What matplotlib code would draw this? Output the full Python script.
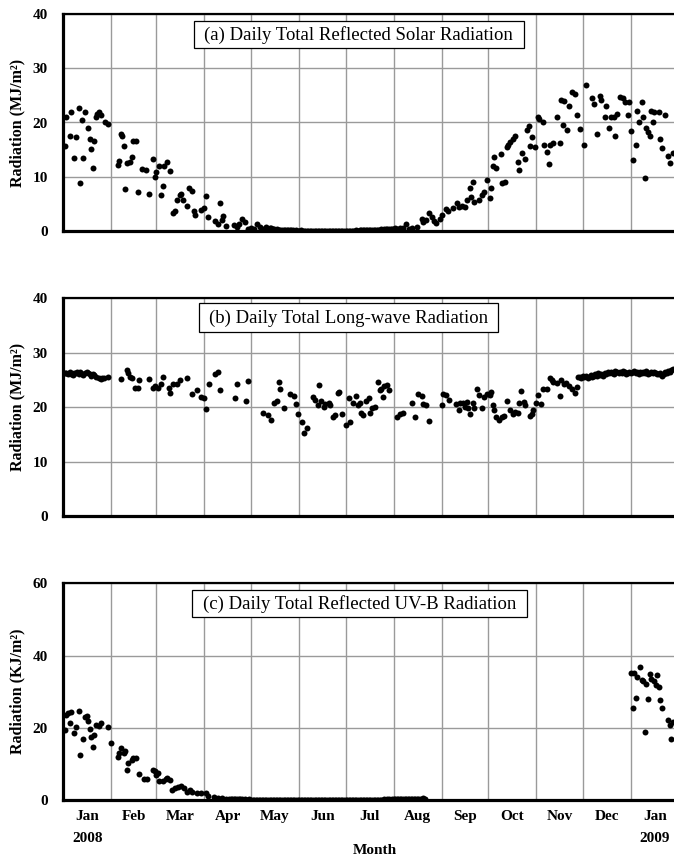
import matplotlib
matplotlib.use('Agg')
import matplotlib.pyplot as plt
import matplotlib.transforms as mtrans
from matplotlib.patches import Rectangle
import numpy as np

plt.rcParams['font.family'] = ['Liberation Serif', 'DejaVu Serif']

# ---------------- data (day 0 = 1 Jan 2008) ----------------
month_names = ['Jan', 'Feb', 'Mar', 'Apr', 'May', 'Jun', 'Jul', 'Aug',
               'Sep', 'Oct', 'Nov', 'Dec', 'Jan']
month_starts = [0, 31, 60, 91, 121, 152, 182, 213, 244, 274, 305, 335, 366, 397]
year_labels = ['2008', '2009']

# (a) reflected solar radiation, MJ/m2
a_days = [1, 2, 4, 5, 7, 8, 10, 11, 12, 13, 14, 16, 17, 18, 19, 20, 21, 22, 23, 24, 27, 29,
          35, 36, 37, 38, 39, 40, 41, 43, 44, 45, 47, 48, 51, 53, 55, 58, 59, 60, 62, 63, 64,
          65, 67, 69, 71, 72, 73, 75, 76, 77, 80, 81, 83, 84, 85, 89, 91, 92, 93, 98, 100,
          101, 102, 103, 105, 110, 112, 113, 115, 117, 119, 121, 123, 125, 127, 129, 131, 133]
a_vals = [15.7, 21.1, 17.5, 21.9, 13.5, 17.3, 22.7, 8.8, 20.5, 13.5, 21.9, 19.0, 16.9, 15.1,
          11.7, 16.5, 21.1, 21.6, 21.9, 21.3, 20.0, 19.7,
          12.2, 12.9, 17.8, 17.5, 15.7, 7.8, 12.5, 12.8, 13.7, 16.5, 16.5, 7.2, 11.4, 11.2, 6.8,
          13.2, 9.9, 10.9, 12.0, 6.6, 8.3, 11.9, 12.8, 11.1, 3.3, 3.7, 5.7, 6.6, 6.9, 5.7, 4.6,
          8.0, 7.3, 3.7, 2.9, 3.9, 4.2, 6.5, 2.5, 1.9, 1.3, 5.1, 2.0, 2.8, 1.0, 1.1, 0.8, 1.3,
          2.3, 1.7, 0.4, 0.6, 0.4, 1.2, 0.8, 0.4, 0.7, 0.6]
a_low_start = 134
a_low_vals = [0.5, 0.3, 0.4, 0.2, 0.3, 0.2, 0.2, 0.15, 0.1, 0.2,
              0.1, 0.1, 0.15, 0.1, 0.1, 0.05, 0.1, 0.08, 0.05, 0.1,
              0.05, 0.05, 0.08, 0.05, 0.03, 0.05, 0.05, 0.03, 0.05, 0.04,
              0.03, 0.05, 0.03, 0.04, 0.03, 0.05, 0.03, 0.04, 0.05, 0.03,
              0.05, 0.04, 0.03, 0.05, 0.04, 0.05, 0.06, 0.05, 0.04, 0.06,
              0.05, 0.07, 0.06, 0.08, 0.06, 0.1, 0.08, 0.1, 0.12, 0.1,
              0.12, 0.15, 0.1, 0.15, 0.2, 0.15, 0.2, 0.18, 0.25, 0.2,
              0.25, 0.3, 0.25, 0.35, 0.3, 0.4, 0.35, 0.3, 0.45, 0.4,
              0.5, 0.45]
a_days2 = [217, 219, 221, 223, 225, 228, 231, 232, 234, 236, 238, 239, 240, 243, 244, 247, 248,
           251, 254, 255, 257, 259, 260, 262, 263, 264, 265, 268, 270, 271, 273, 275, 276, 277,
           278, 279, 282, 283, 285, 286, 287, 288, 290, 291, 293, 294, 296, 298, 299, 300, 301,
           302, 304, 306, 307, 309, 310, 312, 313, 314, 316, 318, 320, 321, 322, 323, 325, 326,
           328, 330, 331, 333, 336, 337, 341, 342, 344, 346, 347, 349, 350, 352, 353, 355, 356,
           357, 359, 361, 362, 364, 365, 366, 367, 369, 370, 371, 373, 374, 375, 376, 377, 378,
           379, 380, 381, 384, 385, 386, 388, 390, 391, 393]
a_vals2 = [0.5, 0.6, 1.3, 0.4, 0.6, 0.8, 2.3, 1.7, 2.1, 3.3, 2.6, 1.8, 1.5, 2.3, 2.9, 4.1, 3.6,
           4.2, 5.2, 4.5, 4.6, 4.5, 5.7, 7.9, 6.3, 9.1, 5.4, 5.8, 6.6, 7.1, 9.4, 6.1, 7.9, 12.0,
           13.7, 11.6, 14.2, 8.9, 9.1, 15.5, 15.9, 16.4, 17.0, 17.6, 12.8, 11.3, 14.4, 13.3, 18.6,
           19.3, 15.7, 17.4, 15.5, 21.0, 20.6, 20.0, 15.8, 14.5, 12.3, 15.9, 16.2, 21.1, 16.2,
           24.1, 19.5, 24.0, 18.7, 23.0, 25.7, 25.2, 21.4, 18.8, 15.8, 26.9, 24.6, 23.4, 17.9,
           24.9, 24.1, 21.1, 23.0, 19.0, 21.0, 21.1, 17.5, 21.6, 24.7, 24.6, 23.8, 21.3, 23.8,
           18.5, 13.1, 15.9, 22.2, 20.1, 23.8, 21.1, 9.8, 19.0, 18.2, 17.6, 22.2, 20.0, 22.0,
           21.9, 16.9, 15.3, 21.3, 13.8, 12.6, 14.3]

# (b) long-wave radiation, MJ/m2
b_days = list(range(1, 22)) + [23, 24, 25, 26, 29, 37, 41, 42, 43, 44, 46, 48, 49, 55, 58, 59,
          61, 63, 64, 68, 69, 71, 73, 75, 80, 83, 86, 89, 91, 92, 94, 98, 100, 101, 111, 112,
          118, 119, 129, 132, 134, 136, 138, 139, 140, 142, 146, 149, 150, 151, 154, 155, 157,
          161, 162, 164, 165, 166, 168, 169, 171, 172, 174, 175, 177, 178, 180, 182, 184, 185,
          187, 189, 190, 191, 192, 193, 195, 197, 198, 199, 201, 203, 204, 205, 206, 207, 209,
          210, 215, 217, 219, 225, 227, 229, 231, 232, 234, 236, 244, 245, 247, 249, 253, 255,
          256, 258, 259, 260, 261, 262, 264, 265, 267, 268, 270, 271, 273, 275, 276, 277, 278,
          279, 281, 283, 284, 286, 288, 290, 291, 293, 294, 295, 297, 298, 301, 302, 303, 305,
          306, 308, 309, 312, 314, 315, 316, 318, 320, 321, 323, 324, 326, 328, 330, 331, 332]
b_vals = [26.2, 26.3, 26.0, 26.4, 26.1, 25.9, 26.3, 26.2, 26.5, 26.0, 26.4, 26.1, 25.9, 26.3,
          26.4, 26.2, 26.0, 25.8, 26.1, 25.9, 25.6,
          25.3, 25.2, 25.3, 25.3, 25.5, 25.1, 26.8, 26.2, 25.6, 25.3, 23.6, 23.6, 25.0, 25.1,
          23.6, 23.9, 23.6, 24.2, 25.6, 23.6, 22.6, 24.2, 24.3, 25.0, 25.4, 22.4, 23.1, 21.9,
          21.6, 19.6, 24.2, 26.1, 26.5, 23.1, 21.7, 24.3, 21.2, 24.8, 18.9, 18.6, 17.6, 20.7,
          21.1, 24.6, 23.3, 19.8, 22.4, 22.1, 20.6, 18.7, 17.2, 15.3, 16.2, 21.8, 21.4, 20.4,
          24.0, 21.2, 20.1, 20.6, 20.7, 20.4, 18.1, 18.5, 22.6, 22.8, 18.8, 16.7, 21.6, 17.3,
          20.7, 22.1, 20.4, 20.8, 19.0, 18.6, 21.2, 21.6, 19.0, 19.8, 20.1, 24.6, 23.1, 23.4,
          21.9, 23.8, 24.0, 23.1, 18.2, 18.8, 19.0, 20.7, 18.1, 22.4, 22.1, 20.6, 20.4, 17.5,
          20.4, 22.4, 22.2, 21.4, 20.6, 19.5, 20.7, 20.8, 20.1, 21.0, 19.8, 18.8, 20.8, 19.8,
          23.4, 22.2, 19.8, 21.9, 22.5, 22.2, 22.8, 20.4, 19.5, 18.2, 17.6, 18.1, 18.3, 21.2,
          19.5, 18.8, 19.1, 19.0, 20.8, 23.0, 21.0, 20.4, 18.3, 18.8, 19.5, 20.7, 22.2, 20.6,
          23.4, 23.4, 25.4, 25.0, 24.7, 24.4, 22.1, 25.0, 24.2, 24.5, 23.8, 23.4, 22.6, 23.7,
          25.5]
b_high_start = 333
b_high_vals = [25.6, 25.3, 25.8, 25.5, 25.7, 25.4, 25.6, 25.9, 25.5, 25.8,
               26.0, 25.7, 26.2, 25.9, 26.1, 25.8, 26.3, 26.0, 26.4, 26.2,
               26.5, 26.3, 26.1, 26.6, 26.4, 26.2, 26.5, 26.3, 26.6, 26.4,
               26.0, 26.3, 26.5, 26.2, 26.4, 26.6, 26.3, 26.5, 26.1, 26.4,
               26.2, 26.5, 26.3, 26.6, 26.0, 26.3, 26.4, 26.2, 26.5, 26.3,
               26.1, 26.0, 26.3, 25.8, 26.1, 26.4, 26.2, 26.6, 26.5, 26.9,
               27.0]

# (c) reflected UV-B, KJ/m2
c_days = [1, 2, 3, 4, 5, 7, 8, 10, 11, 13, 14, 15, 16, 17, 18, 19, 20, 21, 23, 24, 29, 31,
          35, 36, 37, 39, 40, 41, 42, 44, 45, 47, 49, 52, 54, 58, 59, 60, 61, 62, 64, 66, 67,
          69, 70, 72, 74, 76, 78, 80, 82, 83, 86, 89, 92, 93, 97, 100, 102, 105, 107]
c_vals = [19.4, 23.5, 24.0, 21.2, 24.4, 18.6, 20.3, 24.7, 12.5, 16.8, 23.1, 23.3, 22.0, 19.6,
          17.5, 14.6, 18.0, 20.8, 20.5, 21.4, 20.3, 15.7,
          12.0, 12.9, 14.3, 12.9, 13.6, 8.3, 10.3, 11.1, 11.5, 11.7, 7.1, 5.7, 5.7, 8.3, 7.9,
          7.0, 7.4, 5.3, 5.3, 5.7, 6.0, 5.5, 2.8, 3.2, 3.5, 3.9, 3.2, 2.3, 2.8, 2.3, 1.8, 1.8,
          1.8, 1.1, 0.7, 0.5, 0.6, 0.4, 0.2]
c_low_start = 108
c_low_vals = [0.3, 0.25, 0.2, 0.25, 0.2, 0.15, 0.2, 0.15, 0.1, 0.15,
              0.1, 0.1, 0.15, 0.1, 0.1, 0.08, 0.1, 0.08, 0.1, 0.08,
              0.05, 0.08, 0.05, 0.05, 0.08, 0.05, 0.05, 0.03, 0.05, 0.05,
              0.03, 0.05, 0.03, 0.05, 0.03, 0.03, 0.05, 0.03, 0.05, 0.03,
              0.03, 0.05, 0.03, 0.03, 0.05, 0.03, 0.03, 0.05, 0.03, 0.03,
              0.05, 0.03, 0.03, 0.05, 0.03, 0.05, 0.03, 0.03, 0.05, 0.03,
              0.03, 0.05, 0.03, 0.05, 0.03, 0.03, 0.05, 0.03, 0.05, 0.03,
              0.05, 0.03, 0.05, 0.03, 0.05, 0.05, 0.03, 0.05, 0.05, 0.05,
              0.05, 0.08, 0.05, 0.05, 0.08, 0.05, 0.08, 0.05, 0.08, 0.1,
              0.08, 0.1, 0.08, 0.1, 0.1, 0.12, 0.1, 0.12, 0.1, 0.15,
              0.12, 0.15, 0.15, 0.12, 0.15, 0.2, 0.15, 0.2, 0.18, 0.2,
              0.2, 0.25, 0.2, 0.25, 0.3, 0.25, 0.3, 0.3, 0.35, 0.3,
              0.35, 0.4, 0.35, 0.4, 0.45, 0.4]
c_days2 = [366, 367, 368, 369, 370, 372, 373, 374, 375, 376, 377, 378, 379, 381, 382, 383,
           384, 385, 386, 390, 391, 392, 393]
c_vals2 = [35.3, 25.4, 35.1, 28.2, 34.1, 36.7, 33.3, 33.0, 18.9, 32.1, 28.0, 34.8, 33.4, 33.0,
           31.9, 34.7, 31.4, 27.7, 25.6, 22.1, 20.8, 16.8, 21.5]

titles = ['(a) Daily Total Reflected Solar Radiation',
          '(b) Daily Total Long-wave Radiation',
          '(c) Daily Total Reflected UV-B Radiation']
ylabels = ['Radiation (MJ/m²)', 'Radiation (MJ/m²)', 'Radiation (KJ/m²)']

# ---------------- assemble ----------------
a_x = np.concatenate([a_days, a_low_start + np.arange(len(a_low_vals)), a_days2])
a_y = np.concatenate([a_vals, a_low_vals, a_vals2])
b_x = np.concatenate([b_days, b_high_start + np.arange(len(b_high_vals))])
b_y = np.concatenate([b_vals, b_high_vals])
c_x = np.concatenate([c_days, c_low_start + np.arange(len(c_low_vals)), c_days2])
c_y = np.concatenate([c_vals, c_low_vals, c_vals2])

W, H = 674, 858
fig = plt.figure(figsize=(W / 100, H / 100), dpi=100)

left_px = 63.3
panels = [(14.0, 231.0), (298.3, 516.0), (583.3, 800.0)]  # (top_px, bottom_px)
xmax = (W - left_px) / 1.551

data = [(a_x, a_y, 40, 10), (b_x, b_y, 40, 10), (c_x, c_y, 60, 20)]
# title boxes in axes fractions: (x0, x1, y0, y1)
title_boxes = [(0.214, 0.754, 0.845, 0.969),
               (0.222, 0.711, 0.847, 0.978),
               (0.211, 0.759, 0.846, 0.969)]

mids = [(month_starts[i] + month_starts[i + 1]) / 2 for i in range(13)]
grid_col = '#9a9a9a'
tick_fs = 11

for i, ((top, bot), (xs, ys, ymax, ystep)) in enumerate(zip(panels, data)):
    ax = fig.add_axes([left_px / W, 1 - bot / H, 1 - left_px / W, (bot - top) / H])
    ax.set_axisbelow(True)
    ax.plot(xs, ys, 'o', color='black', ms=4.3, mec='none', zorder=3)
    ax.set_xlim(0, xmax)
    ax.set_ylim(0, ymax)
    ax.set_yticks(np.arange(0, ymax + 1, ystep))
    ax.set_xticks(month_starts[1:13], minor=True)
    ax.set_xticks(mids)
    if i == 2:
        ax.set_xticklabels(month_names, fontsize=tick_fs, fontweight='bold')
    else:
        ax.set_xticklabels([])
    ax.grid(which='minor', axis='x', color=grid_col, lw=1.0)
    ax.grid(which='major', axis='y', color=grid_col, lw=1.0)
    ax.grid(which='major', axis='x', visible=False)
    ax.tick_params(which='both', length=0)
    ax.tick_params(axis='y', pad=11, labelsize=tick_fs)
    ax.tick_params(axis='x', pad=7)
    for lab in ax.get_yticklabels():
        lab.set_fontweight('bold')
    ax.spines['right'].set_visible(False)
    ax.spines['left'].set_linewidth(2.3)
    ax.spines['bottom'].set_linewidth(2.3)
    ax.spines['top'].set_linewidth(1.6)
    ax.set_ylabel(ylabels[i], fontsize=11.5, fontweight='bold')
    ax.yaxis.set_label_coords(-0.062, 0.5)
    x0, x1, y0, y1 = title_boxes[i]
    ax.add_patch(Rectangle((x0, y0), x1 - x0, y1 - y0, transform=ax.transAxes,
                           fc='white', ec='black', lw=0.9, zorder=5))
    ax.text((x0 + x1) / 2, (y0 + y1) / 2 - 0.005, titles[i], transform=ax.transAxes,
            ha='center', va='center', fontsize=13.5, zorder=6)
    if i == 2:
        trans = mtrans.blended_transform_factory(ax.transData, ax.transAxes)
        ax.text(mids[0], -0.178, year_labels[0], transform=trans, ha='center', va='center',
                fontsize=tick_fs, fontweight='bold')
        ax.text(mids[12], -0.178, year_labels[1], transform=trans, ha='center', va='center',
                fontsize=tick_fs, fontweight='bold')
        ax.set_xlabel('Month', fontsize=tick_fs, fontweight='bold')
        ax.xaxis.set_label_coords(0.510, -0.203)

fig.savefig('out.png', dpi=100)
